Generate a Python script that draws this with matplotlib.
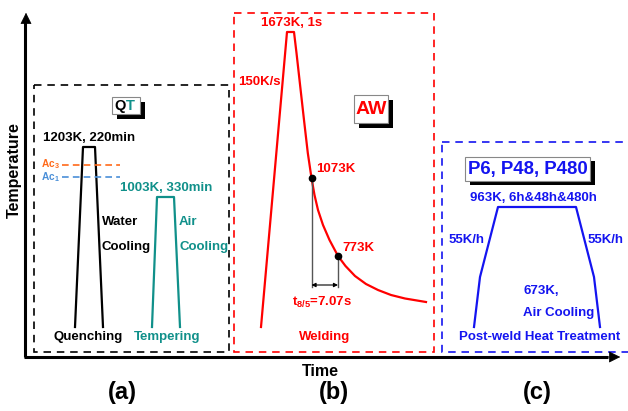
import matplotlib
matplotlib.use("Agg")
import matplotlib.pyplot as plt
from matplotlib.patches import Rectangle

plt.rcParams['font.family'] = ['Liberation Sans', 'DejaVu Sans']
plt.rcParams['font.weight'] = 'bold'
plt.rcParams['mathtext.fontset'] = 'custom'
plt.rcParams['mathtext.bf'] = 'Liberation Sans:bold'
plt.rcParams['mathtext.rm'] = 'Liberation Sans:bold'
plt.rcParams['mathtext.default'] = 'bf'

# ---- schematic data (time, temperature) in drawing units (y grows downward) ----
quench_t = [75, 83, 95, 103]
quench_T = [327, 147, 147, 327]
temper_t = [152, 157, 174, 180]
temper_T = [327, 197, 197, 327]
ac3_t = [62, 120]
ac3_T = [165, 165]
ac1_t = [62, 120]
ac1_T = [177, 177]
weld_t = [261, 287, 294, 296.5, 300.3, 304, 307.8, 311.5, 314.5, 318, 323, 329.5,
          338, 345.5, 355, 366, 378, 391, 405, 426]
weld_T = [327, 32, 32, 53, 87, 120, 153, 178, 195, 210, 225, 240,
          256, 266, 276, 284, 290, 295, 298.5, 302]
t85_t = [311.5, 338]
t85_T = [178, 256]
pwht_t = [474, 480, 498, 576, 594, 600]
pwht_T = [327, 277, 207, 207, 277, 327]

TEAL = '#10908a'
RED = '#ff0000'
BLUE = '#1414f0'
ORANGE = '#ff6a1a'
LBLUE = '#4a8fd8'

fig = plt.figure(figsize=(6.28, 4.11), dpi=100)
ax = fig.add_axes([0, 0, 1, 1])
ax.set_xlim(0, 628)
ax.set_ylim(411, 0)
ax.axis('off')

# axes arrows
ax.plot([25, 25], [357, 22], color='k', lw=2.2, solid_capstyle='butt')
ax.annotate('', xy=(26, 10), xytext=(26, 30),
            arrowprops=dict(arrowstyle='-|>', color='k', lw=0.5, mutation_scale=18))
ax.plot([24, 608], [357, 357], color='k', lw=2.2, solid_capstyle='butt')
ax.annotate('', xy=(623, 357), xytext=(602, 357),
            arrowprops=dict(arrowstyle='-|>', color='k', lw=0.5, mutation_scale=18))
ax.text(14, 170, 'Temperature', rotation=90, ha='center', va='center', fontsize=11.5)
ax.text(320, 371, 'Time', ha='center', va='center', fontsize=11.5)
for x, s in [(122, '(a)'), (334, '(b)'), (537, '(c)')]:
    ax.text(x, 392, s, ha='center', va='center', fontsize=17)

# dashed boxes
def dbox(x0, y0, x1, y1, c):
    r = Rectangle((x0, y0), x1 - x0, y1 - y0, fill=False, edgecolor=c, lw=1.2,
                  linestyle=(0, (4.5, 3.5)), zorder=1)
    ax.add_patch(r)

dbox(34, 85, 229, 352, 'k')
dbox(234, 13, 434, 352, RED)
dbox(442, 142, 660, 352, BLUE)

# title boxes with shadow
def tbox(x0, y0, x1, y1, parts, fs):
    ax.add_patch(Rectangle((x0 + 4.5, y0 + 4.5), x1 - x0, y1 - y0, facecolor='k',
                           edgecolor='none', zorder=3))
    ax.add_patch(Rectangle((x0, y0), x1 - x0, y1 - y0, facecolor='white',
                           edgecolor='#888888', lw=0.8, zorder=4))
    cx, cy = (x0 + x1) / 2, (y0 + y1) / 2
    if len(parts) == 1:
        ax.text(cx, cy + 0.5, parts[0][0], color=parts[0][1], ha='center', va='center',
                fontsize=fs, zorder=5)
    else:
        ax.text(cx, cy + 0.5, parts[0][0], color=parts[0][1], ha='right', va='center',
                fontsize=fs, zorder=5)
        ax.text(cx, cy + 0.5, parts[1][0], color=parts[1][1], ha='left', va='center',
                fontsize=fs, zorder=5)

tbox(112, 97, 140, 114, [('Q', 'k'), ('T', TEAL)], 10.5)
tbox(354, 95, 388, 123, [('AW', RED)], 14)
tbox(465, 157, 590, 181, [('P6, P48, P480', BLUE)], 13.4)

# (a) QT
ax.plot(quench_t, quench_T, color='k', lw=1.6)
ax.plot(temper_t, temper_T, color=TEAL, lw=1.6)
ax.plot(ac3_t, ac3_T, color=ORANGE, lw=1.2, linestyle=(0, (4, 2.5)))
ax.plot(ac1_t, ac1_T, color=LBLUE, lw=1.2, linestyle=(0, (4, 2.5)))
ax.text(41, 164, r'Ac$_3$', color=ORANGE, ha='left', va='center', fontsize=7.3)
ax.text(41, 177, r'Ac$_1$', color=LBLUE, ha='left', va='center', fontsize=7.3)
ax.text(89, 138, '1203K, 220min', color='k', ha='center', va='center', fontsize=9.5)
ax.text(102, 222, 'Water', color='k', ha='left', va='center', fontsize=9.5)
ax.text(102, 247, 'Cooling', color='k', ha='left', va='center', fontsize=9.5)
ax.text(166, 188, '1003K, 330min', color=TEAL, ha='center', va='center', fontsize=9.5)
ax.text(179, 222, 'Air', color=TEAL, ha='left', va='center', fontsize=9.5)
ax.text(179, 247, 'Cooling', color=TEAL, ha='left', va='center', fontsize=9.5)
ax.text(88, 337, 'Quenching', color='k', ha='center', va='center', fontsize=9.5)
ax.text(167, 337, 'Tempering', color=TEAL, ha='center', va='center', fontsize=9.5)

# (b) welding
ax.plot(weld_t, weld_T, color=RED, lw=1.6)
for t, T in zip(t85_t, t85_T):
    ax.plot([t, t], [T, 287], color='#555555', lw=1.0)
ax.plot(t85_t, t85_T, 'o', color='k', ms=4.5, zorder=5)
ax.annotate('', xy=(t85_t[0], 285), xytext=(t85_t[1], 285),
            arrowprops=dict(arrowstyle='<|-|>', color='k', lw=0.8, mutation_scale=6,
                            shrinkA=0, shrinkB=0))
ax.text(292, 23, '1673K, 1s', color=RED, ha='center', va='center', fontsize=9.5)
ax.text(238, 82, '150K/s', color=RED, ha='left', va='center', fontsize=9.5)
ax.text(316, 169, '1073K', color=RED, ha='left', va='center', fontsize=9.5)
ax.text(342, 248, '773K', color=RED, ha='left', va='center', fontsize=9.5)
ax.text(322, 302, r't$_{8/5}$=7.07s', color=RED, ha='center', va='center', fontsize=9.5)
ax.text(325, 337, 'Welding', color=RED, ha='center', va='center', fontsize=9.5)

# (c) PWHT
ax.plot(pwht_t, pwht_T, color=BLUE, lw=1.6)
ax.text(533, 198, '963K, 6h&48h&480h', color=BLUE, ha='center', va='center', fontsize=9.5)
ax.text(449, 240, '55K/h', color=BLUE, ha='left', va='center', fontsize=9.5)
ax.text(588, 240, '55K/h', color=BLUE, ha='left', va='center', fontsize=9.5)
ax.text(523, 291, '673K,', color=BLUE, ha='left', va='center', fontsize=9.5)
ax.text(523, 313, 'Air Cooling', color=BLUE, ha='left', va='center', fontsize=9.5)
ax.text(540, 337, 'Post-weld Heat Treatment', color=BLUE, ha='center', va='center', fontsize=9.5)

fig.savefig('out.png', dpi=100, facecolor='white')
